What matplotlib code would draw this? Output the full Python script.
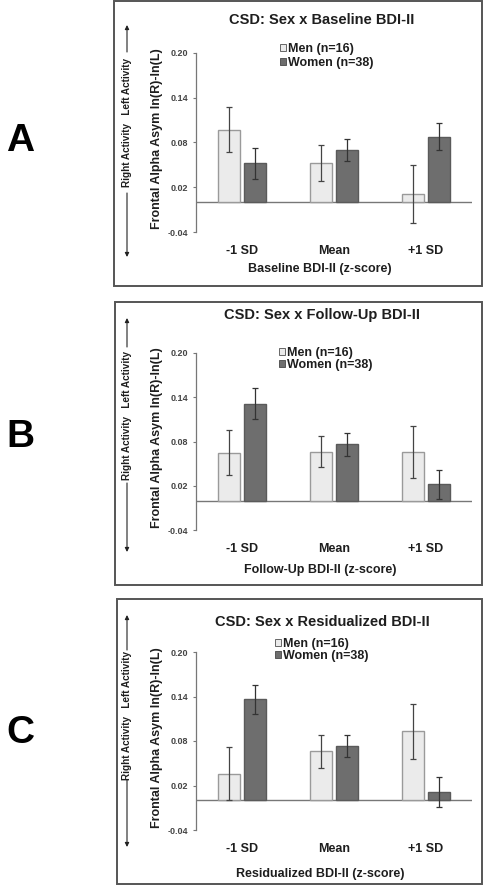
import numpy as np
import matplotlib
matplotlib.use('Agg')
import matplotlib.pyplot as plt
from matplotlib.patches import Rectangle, Patch

plt.rcParams['font.family'] = ['Liberation Sans', 'DejaVu Sans']
plt.rcParams['font.weight'] = 'bold'
plt.rcParams['axes.labelweight'] = 'bold'

W, H = 484, 886

groups = ['-1 SD', 'Mean', '+1 SD']
legend_labels = ['Men (n=16)', 'Women (n=38)']
titles = ['CSD: Sex x Baseline BDI-II',
          'CSD: Sex x Follow-Up BDI-II',
          'CSD: Sex x Residualized BDI-II']
xlabels = ['Baseline BDI-II (z-score)',
           'Follow-Up BDI-II (z-score)',
           'Residualized BDI-II (z-score)']
panel_letters = ['A', 'B', 'C']
yticks = [-0.04, 0.02, 0.08, 0.14, 0.20]

# values: mean and standard error per group
men_a = [0.097, 0.053, 0.011]
men_a_err = [0.030, 0.024, 0.039]
women_a = [0.052, 0.070, 0.088]
women_a_err = [0.021, 0.015, 0.018]

men_b = [0.065, 0.066, 0.066]
men_b_err = [0.031, 0.021, 0.035]
women_b = [0.131, 0.076, 0.022]
women_b_err = [0.021, 0.015, 0.020]

men_c = [0.036, 0.066, 0.093]
men_c_err = [0.036, 0.022, 0.037]
women_c = [0.136, 0.073, 0.011]
women_c_err = [0.020, 0.015, 0.020]

men = [men_a, men_b, men_c]
men_err = [men_a_err, men_b_err, men_c_err]
women = [women_a, women_b, women_c]
women_err = [women_a_err, women_b_err, women_c_err]

men_fill, men_edge = '#ebebeb', '#9a9a9a'
women_fill, women_edge = '#6e6e6e', '#5a5a5a'
txt = '#1e1e1e'


def fx(x):
    return x / W


def fy(y):
    return 1 - y / H


fig = plt.figure(figsize=(W / 100, H / 100), dpi=100)

# per panel layout in pixels
boxes = [(114, 1, 482, 286), (115, 302, 482, 585), (117, 599, 482, 884)]
ax_top = [53, 353, 652]
ax_bot = [232, 530, 830]
title_y = [20, 315, 622]
leg_y = [43, 347, 638]
leg_x = [280, 279, 275]
leg_space = [0.15, 0.0, 0.0]
letter_y = [141, 437, 733]
xlab_y = [269, 570, 874]
side_text = [(55, 190), (350, 480), (653, 777)]
side_arrow = [(25, 257), (318, 552), (615, 847)]

x = np.arange(len(groups))
bw = 0.24
off = 0.145

for i in range(3):
    x0, y0, x1, y1 = boxes[i]
    fig.patches.append(Rectangle((fx(x0), fy(y1)), fx(x1 - x0), (y1 - y0) / H,
                                 transform=fig.transFigure, fill=False,
                                 edgecolor='#555555', lw=1.4))

    hgt = ax_bot[i] - ax_top[i]
    ax = fig.add_axes([fx(196), fy(ax_bot[i]), fx(472 - 196), hgt / H])
    ax.bar(x - off, men[i], bw, color=men_fill, edgecolor=men_edge, lw=1.0,
           yerr=men_err[i], error_kw=dict(ecolor='#444444', elinewidth=0.9,
                                          capsize=2, capthick=0.9))
    ax.bar(x + off, women[i], bw, color=women_fill, edgecolor=women_edge, lw=1.0,
           yerr=women_err[i], error_kw=dict(ecolor='#333333', elinewidth=0.9,
                                            capsize=2, capthick=0.9))
    ax.axhline(0, color='#777777', lw=1.0, zorder=0.5)
    ax.set_xlim(-0.5, 2.5)
    ax.set_ylim(-0.04, 0.20)
    ax.set_yticks(yticks)
    ax.set_yticklabels(['%.2f' % v for v in yticks], fontsize=6.5, color='#444444')
    ax.tick_params(axis='y', length=2.5, width=0.8, color='#777777', pad=3)
    ax.set_xticks(x)
    ax.set_xticklabels(groups, fontsize=9, color=txt)
    ax.tick_params(axis='x', length=0, pad=9)
    for s in ['top', 'right', 'bottom']:
        ax.spines[s].set_visible(False)
    ax.spines['left'].set_color('#777777')
    ax.spines['left'].set_linewidth(0.9)
    ax.patch.set_alpha(0)

    ax.set_ylabel('Frontal Alpha Asym ln(R)-ln(L)', fontsize=9, color=txt)
    ax.yaxis.set_label_coords((163 - 196) / 276, 0.52)
    ax.set_xlabel(xlabels[i], fontsize=9, color=txt)
    ax.xaxis.set_label_coords(0.45, -(xlab_y[i] - 6 - ax_bot[i]) / hgt)

    fig.text(fx(322), fy(title_y[i]), titles[i], ha='center', va='center',
             fontsize=10.5, fontweight='bold', color=txt)

    handles = [Patch(facecolor=men_fill, edgecolor='#666666', lw=0.7),
               Patch(facecolor=women_fill, edgecolor='#555555', lw=0.7)]
    fig.legend(handles, legend_labels, loc='upper left',
               bbox_to_anchor=(fx(leg_x[i]), fy(leg_y[i])), frameon=False,
               fontsize=9, handlelength=0.5, handleheight=0.5,
               handletextpad=0.15, labelspacing=leg_space[i], borderpad=0,
               borderaxespad=0, labelcolor=txt)

    fig.text(fx(20), fy(letter_y[i]), panel_letters[i], ha='center', va='center',
             fontsize=28, fontweight='bold', color='black')

    # direction note with arrows on the far left
    t0, t1 = side_text[i]
    a0, a1 = side_arrow[i]
    fig.text(fx(127), fy((t0 + t1) / 2), 'Right Activity   Left Activity',
             rotation=90, ha='center', va='center', fontsize=7.2,
             fontweight='bold', color=txt)
    ap = dict(arrowstyle='-|>', lw=0.8, color='#222222', mutation_scale=6,
              shrinkA=0, shrinkB=0)
    ax.annotate('', xy=(fx(127), fy(a0)), xytext=(fx(127), fy(t0 - 3)),
                xycoords='figure fraction', textcoords='figure fraction',
                arrowprops=ap, annotation_clip=False)
    ax.annotate('', xy=(fx(127), fy(a1)), xytext=(fx(127), fy(t1 + 3)),
                xycoords='figure fraction', textcoords='figure fraction',
                arrowprops=ap, annotation_clip=False)

fig.savefig('out.png', dpi=100, facecolor='white')
